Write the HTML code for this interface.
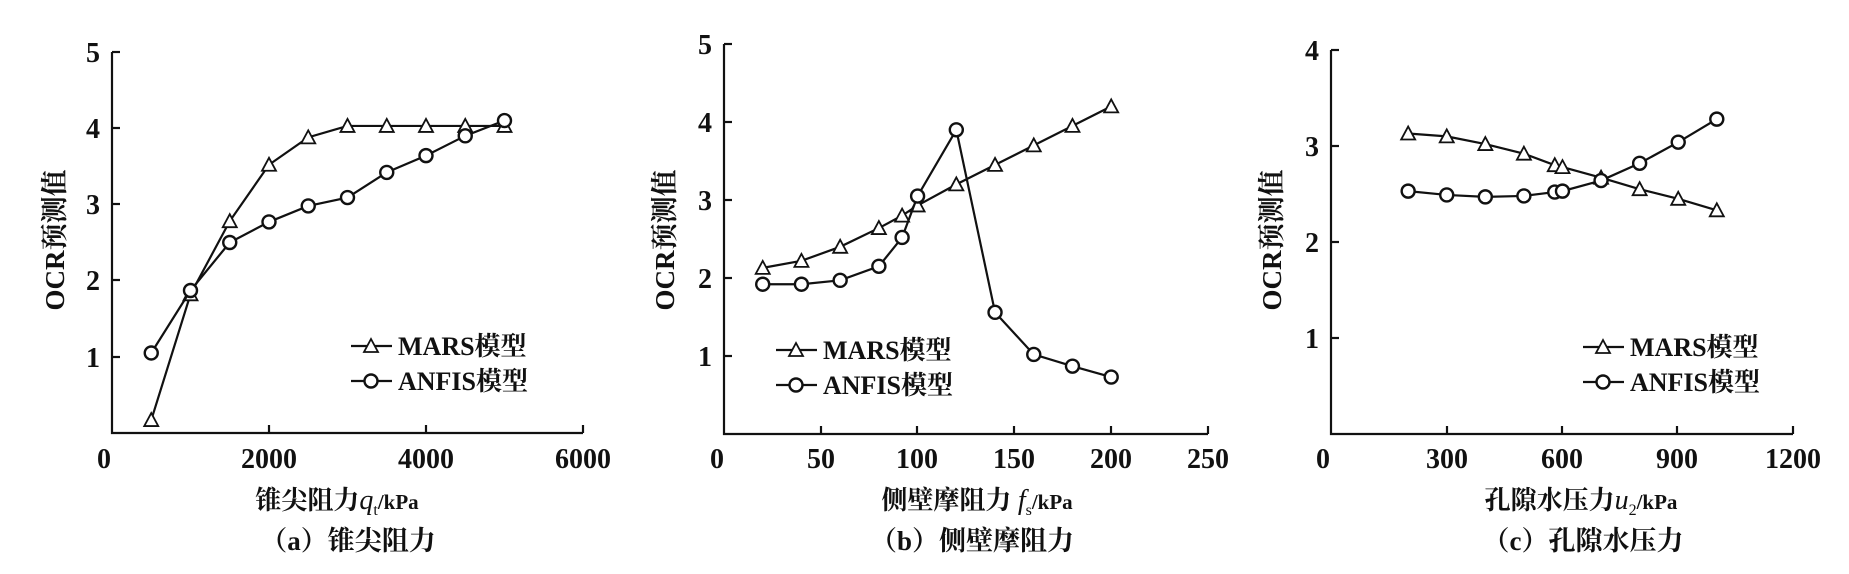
<!DOCTYPE html>
<html><head><meta charset="utf-8">
<style>
html,body{margin:0;padding:0;background:#fff;}
svg{display:block;}
text{font-family:"Liberation Serif","Noto Serif CJK SC","Noto Sans CJK SC",serif;fill:#111;}
.tk{font-size:28px;font-weight:bold;}
.lg{font-size:26px;font-weight:bold;}
.yl{font-size:27px;font-weight:bold;}
.xl{font-size:26px;font-weight:bold;}
.cap{font-size:27px;font-weight:bold;}
</style></head><body>
<svg id="s" width="1849" height="574" viewBox="0 0 1849 574" xmlns="http://www.w3.org/2000/svg">
<g id="axes" stroke="#111" stroke-width="2.2" fill="none">
<polyline points="112,52 112,433 583,433"/>
<line x1="112" y1="52" x2="120" y2="52"/><line x1="112" y1="128" x2="120" y2="128"/><line x1="112" y1="204" x2="120" y2="204"/><line x1="112" y1="280" x2="120" y2="280"/><line x1="112" y1="357" x2="120" y2="357"/>
<line x1="269" y1="433" x2="269" y2="425"/><line x1="426" y1="433" x2="426" y2="425"/><line x1="583" y1="433" x2="583" y2="425"/>
<polyline points="724,44 724,434 1208,434"/>
<line x1="724" y1="44" x2="732" y2="44"/><line x1="724" y1="122" x2="732" y2="122"/><line x1="724" y1="200" x2="732" y2="200"/><line x1="724" y1="278" x2="732" y2="278"/><line x1="724" y1="356" x2="732" y2="356"/>
<line x1="821" y1="434" x2="821" y2="426"/><line x1="917" y1="434" x2="917" y2="426"/><line x1="1014" y1="434" x2="1014" y2="426"/><line x1="1111" y1="434" x2="1111" y2="426"/><line x1="1208" y1="434" x2="1208" y2="426"/>
<polyline points="1331,50 1331,434 1793,434"/>
<line x1="1331" y1="50" x2="1339" y2="50"/><line x1="1331" y1="146" x2="1339" y2="146"/><line x1="1331" y1="242" x2="1339" y2="242"/><line x1="1331" y1="338" x2="1339" y2="338"/>
<line x1="1447" y1="434" x2="1447" y2="426"/><line x1="1562" y1="434" x2="1562" y2="426"/><line x1="1677" y1="434" x2="1677" y2="426"/><line x1="1793" y1="434" x2="1793" y2="426"/>
</g>
<g class="tk" text-anchor="end">
<text x="100" y="62">5</text><text x="100" y="138">4</text><text x="100" y="214">3</text><text x="100" y="290">2</text><text x="100" y="367">1</text>
<text x="712" y="54">5</text><text x="712" y="132">4</text><text x="712" y="210">3</text><text x="712" y="288">2</text><text x="712" y="366">1</text>
<text x="1319" y="60">4</text><text x="1319" y="156">3</text><text x="1319" y="252">2</text><text x="1319" y="348">1</text>
</g>
<g class="tk" text-anchor="middle">
<text x="104" y="468">0</text><text x="269" y="468">2000</text><text x="426" y="468">4000</text><text x="583" y="468">6000</text>
<text x="717" y="468">0</text><text x="821" y="468">50</text><text x="917" y="468">100</text><text x="1014" y="468">150</text><text x="1111" y="468">200</text><text x="1208" y="468">250</text>
<text x="1323" y="468">0</text><text x="1447" y="468">300</text><text x="1562" y="468">600</text><text x="1677" y="468">900</text><text x="1793" y="468">1200</text>
</g>
<g class="yl">
<text transform="translate(64,240) rotate(-90)" text-anchor="middle">OCR预测值</text>
<text transform="translate(674,240) rotate(-90)" text-anchor="middle">OCR预测值</text>
<text transform="translate(1281,240) rotate(-90)" text-anchor="middle">OCR预测值</text>
</g>
<g class="xl">
<text x="337" y="509" text-anchor="middle">锥尖阻力<tspan font-style="italic" font-weight="normal" font-size="28">q</tspan><tspan font-size="16" dy="6" font-weight="normal">t</tspan><tspan dy="-6" font-size="21">/kPa</tspan></text>
<text x="977" y="509" text-anchor="middle">侧壁摩阻力 <tspan font-style="italic" font-weight="normal" font-size="28">f</tspan><tspan font-size="16" dy="6" font-weight="normal">s</tspan><tspan dy="-6" font-size="21">/kPa</tspan></text>
<text x="1581" y="509" text-anchor="middle">孔隙水压力<tspan font-style="italic" font-weight="normal" font-size="28">u</tspan><tspan font-size="16" dy="6" font-weight="normal">2</tspan><tspan dy="-6" font-size="21">/kPa</tspan></text>
</g>
<g class="cap" text-anchor="middle">
<text x="348" y="550">（a）锥尖阻力</text>
<text x="972" y="550">（b）侧壁摩阻力</text>
<text x="1583" y="550">（c）孔隙水压力</text>
</g>
<g class="lg">
<text x="398" y="355">MARS模型</text><text x="398" y="390">ANFIS模型</text>
<text x="823" y="359">MARS模型</text><text x="823" y="394">ANFIS模型</text>
<text x="1630" y="356">MARS模型</text><text x="1630" y="391">ANFIS模型</text>
</g>
<g id="data"></g>
</svg>
<script>
var NS="http://www.w3.org/2000/svg",g=document.getElementById('data');
function el(t,a){var e=document.createElementNS(NS,t);for(var k in a)e.setAttribute(k,a[k]);g.appendChild(e);return e;}
function tri(x,y){el('polygon',{points:(x-7)+','+(y+6)+' '+(x+7)+','+(y+6)+' '+x+','+(y-7),fill:'#fff',stroke:'#111','stroke-width':1.8});}
function cir(x,y){el('circle',{cx:x,cy:y,r:6.5,fill:'#fff',stroke:'#111','stroke-width':2.4});}
function series(P,xs,ys,mk){var pts=xs.map(function(x,i){return [P.x0+x*P.sx,P.y0-ys[i]*P.sy];});
el('polyline',{points:pts.map(function(p){return p.join(',')}).join(' '),fill:'none',stroke:'#111','stroke-width':2.2});
pts.forEach(function(p){mk(p[0],p[1]);});}
function legend(x,y1,y2){el('line',{x1:x,y1:y1,x2:x+41,y2:y1,stroke:'#111','stroke-width':2.2});tri(x+20,y1);
el('line',{x1:x,y1:y2,x2:x+41,y2:y2,stroke:'#111','stroke-width':2.2});cir(x+20,y2);}
var A={x0:112,sx:0.0785,y0:433,sy:76.2};
series(A,[500,1000,1500,2000,2500,3000,3500,4000,4500,5000],[0.17,1.82,2.78,3.52,3.88,4.03,4.03,4.03,4.03,4.03],tri);
series(A,[500,1000,1500,2000,2500,3000,3500,4000,4500,5000],[1.05,1.87,2.5,2.77,2.98,3.09,3.42,3.64,3.9,4.1],cir);
var B={x0:724,sx:1.936,y0:434,sy:78};
var bx=[20,40,60,80,92,100,120,140,160,180,200];
series(B,bx,[2.13,2.22,2.4,2.64,2.8,2.93,3.2,3.45,3.7,3.95,4.2],tri);
series(B,bx,[1.92,1.92,1.97,2.15,2.52,3.05,3.9,1.56,1.02,0.87,0.73],cir);
var C={x0:1331,sx:0.3858,y0:434,sy:96};
var cx=[200,300,400,500,580,600,700,800,900,1000];
series(C,cx,[3.13,3.1,3.02,2.92,2.8,2.78,2.67,2.55,2.45,2.33],tri);
series(C,cx,[2.53,2.49,2.47,2.48,2.52,2.53,2.64,2.82,3.04,3.28],cir);
legend(351,346,381);legend(776,350,385);legend(1583,347,382);
</script>
</body></html>
